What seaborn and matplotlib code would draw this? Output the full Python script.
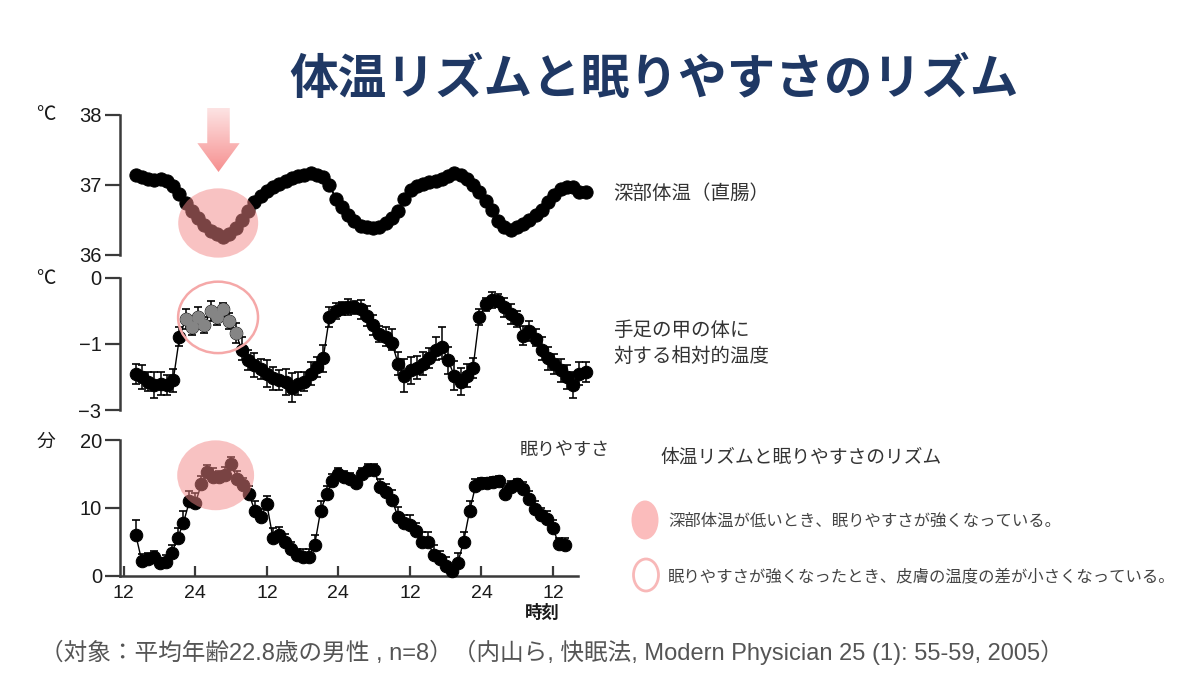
import numpy as np
import pandas as pd
import matplotlib
matplotlib.use("Agg")
import matplotlib.pyplot as plt
from matplotlib.patches import Ellipse, Polygon
import seaborn as sns

# ---------------- data ----------------
hours = list(range(14, 87))  # clock hours since start (12 = noon of day 1)

core_temp = [37.13, 37.11, 37.08, 37.07, 37.08, 37.05, 36.98, 36.86, 36.73, 36.62,
             36.52, 36.42, 36.34, 36.29, 36.25, 36.30, 36.38, 36.50, 36.62, 36.75,
             36.84, 36.91, 36.97, 37.01, 37.05, 37.09, 37.12, 37.14, 37.16, 37.14,
             37.11, 37.00, 36.80, 36.68, 36.57, 36.48, 36.41, 36.39, 36.38, 36.40,
             36.45, 36.52, 36.62, 36.80, 36.92, 36.98, 37.01, 37.03, 37.05, 37.08,
             37.12, 37.17, 37.14, 37.08, 36.99, 36.90, 36.77, 36.64, 36.48, 36.40,
             36.35, 36.40, 36.44, 36.50, 36.57, 36.63, 36.75, 36.85, 36.93, 36.96,
             36.97, 36.90, 36.89]

skin_rel = [-1.90, -2.00, -2.14, -2.24, -2.20, -2.24, -2.10, -0.90, -0.62, -0.75,
            -0.60, -0.72, -0.50, -0.60, -0.48, -0.65, -0.83, -1.20, -1.50, -1.64,
            -1.76, -1.90, -2.04, -2.10, -2.16, -2.32, -2.20, -2.14, -1.90, -1.70,
            -1.44, -0.60, -0.50, -0.46, -0.44, -0.45, -0.48, -0.58, -0.72, -0.85,
            -0.90, -0.98, -1.60, -1.96, -1.80, -1.72, -1.60, -1.44, -1.20, -1.10,
            -1.50, -1.96, -2.14, -1.96, -1.72, -0.60, -0.40, -0.34, -0.35, -0.45,
            -0.55, -0.62, -0.88, -0.80, -0.92, -1.20, -1.44, -1.60, -1.80, -2.00,
            -2.24, -1.90, -1.84]

skin_err = [0.30, 0.35, 0.30, 0.40, 0.35, 0.30, 0.35, 0.15, 0.15, 0.12,
            0.15, 0.12, 0.15, 0.12, 0.10, 0.12, 0.15, 0.30, 0.30, 0.35,
            0.30, 0.40, 0.35, 0.30, 0.40, 0.45, 0.35, 0.30, 0.35, 0.30,
            0.40, 0.15, 0.12, 0.10, 0.12, 0.10, 0.15, 0.15, 0.15, 0.12,
            0.15, 0.20, 0.35, 0.50, 0.40, 0.35, 0.35, 0.30, 0.30, 0.35,
            0.40, 0.45, 0.40, 0.35, 0.30, 0.12, 0.10, 0.12, 0.10, 0.15,
            0.15, 0.12, 0.15, 0.15, 0.15, 0.30, 0.35, 0.30, 0.35, 0.35,
            0.40, 0.35, 0.30]

sleep_min = [6.0, 2.2, 2.5, 2.8, 1.8, 2.0, 3.3, 5.5, 7.8, 11.0,
             10.7, 13.5, 15.3, 14.6, 14.5, 14.8, 16.5, 14.3, 13.4, 12.0,
             9.5, 8.7, 10.5, 5.6, 6.0, 5.0, 4.0, 3.0, 2.7, 2.8,
             4.5, 9.5, 12.0, 14.0, 15.0, 14.5, 14.2, 13.6, 15.0, 15.6,
             15.6, 13.0, 12.3, 11.2, 8.6, 7.8, 7.4, 6.6, 5.0, 5.0,
             3.0, 2.5, 1.5, 0.7, 1.8, 5.0, 9.5, 13.2, 13.6, 13.6,
             13.8, 13.9, 12.0, 13.0, 13.5, 12.8, 11.3, 9.8, 9.0, 8.4,
             7.0, 4.6, 4.5]

sleep_err = [2.2, 1.0, 0.8, 0.8, 0.8, 1.0, 1.2, 1.5, 1.8, 1.5,
             1.5, 1.2, 1.0, 1.2, 1.0, 1.2, 1.0, 1.2, 1.0, 1.2,
             1.5, 1.2, 1.3, 1.5, 1.2, 1.2, 1.0, 1.0, 1.2, 1.2,
             1.5, 1.5, 1.2, 1.0, 0.8, 1.0, 1.0, 0.8, 0.8, 0.8,
             0.8, 1.2, 1.2, 1.5, 1.5, 1.2, 1.5, 1.2, 1.5, 1.5,
             1.5, 1.2, 1.2, 0.8, 1.5, 1.5, 1.5, 1.0, 0.8, 0.8,
             0.8, 0.8, 1.0, 1.0, 0.8, 1.0, 1.2, 1.2, 1.0, 1.2,
             1.2, 1.0, 1.0]

xtick_hours = [12, 24, 36, 48, 60, 72, 84]
xtick_labels = ["12", "24", "12", "24", "12", "24", "12"]
grey_window = (21.5, 30.5)   # points shown in grey inside the open ring

title = "体温リズムと眠りやすさのリズム"
label_core = "深部体温（直腸）"
label_skin = ["手足の甲の体に", "対する相対的温度"]
label_sleep = "眠りやすさ"
legend_title = "体温リズムと眠りやすさのリズム"
legend_items = ["深部体温が低いとき、眠りやすさが強くなっている。",
                "眠りやすさが強くなったとき、皮膚の温度の差が小さくなっている。"]
caption = "（対象：平均年齢22.8歳の男性 , n=8）（内山ら, 快眠法, Modern Physician 25 (1): 55-59, 2005）"

df = pd.DataFrame({"hour": hours, "core": core_temp, "skin": skin_rel,
                   "skin_err": skin_err, "sleep": sleep_min, "sleep_err": sleep_err})

# ---------------- style ----------------
sns.set_theme(style="white")
plt.rcParams["font.family"] = ["Noto Sans CJK JP", "DejaVu Sans"]
plt.rcParams["axes.unicode_minus"] = True
NUMFONT = ["Liberation Sans", "Noto Sans CJK JP"]

W, H = 1200, 675
fig = plt.figure(figsize=(W / 100, H / 100), dpi=100, facecolor="white")


def box(x0, y0, x1, y1):
    return [x0 / W, 1 - y1 / H, (x1 - x0) / W, (y1 - y0) / H]


def fpos(x, y):
    return x / W, 1 - y / H


SPINE = "#3a3a3a"
PINK_FILL = "#f38686"


def style_axis(ax, bottom=False):
    for s in ["top", "right"]:
        ax.spines[s].set_visible(False)
    ax.spines["left"].set_color(SPINE)
    ax.spines["left"].set_linewidth(1.8)
    ax.tick_params(axis="y", direction="out", length=11, width=1.6, color=SPINE,
                   pad=2, labelsize=14.5, labelcolor="#1a1a1a", left=True)
    if bottom:
        ax.spines["bottom"].set_color(SPINE)
        ax.spines["bottom"].set_linewidth(1.8)
        ax.tick_params(axis="x", direction="in", length=7, width=1.6, color=SPINE,
                       pad=7, labelsize=14, labelcolor="#1a1a1a", bottom=True)
    else:
        ax.spines["bottom"].set_visible(False)
        ax.set_xticks([])
    for lab in ax.get_xticklabels() + ax.get_yticklabels():
        lab.set_family(NUMFONT)
    ax.set_xlabel("")
    ax.set_ylabel("")
    ax.set_facecolor("none")


# ---- panel 1: core body temperature ----
ax1 = fig.add_axes(box(119.5, 114.5, 598, 254.5))
sns.lineplot(data=df, x="hour", y="core", ax=ax1, color="black", linewidth=1.5,
             marker="o", markersize=9.5, markeredgecolor="black", zorder=3)
ax1.set_xlim(11.4, 88)
ax1.set_ylim(36, 38)
ax1.set_yticks([36, 37, 38])
style_axis(ax1)
ax1.add_patch(Ellipse((27.2, 36.45), 12.8, 0.99, facecolor=PINK_FILL, alpha=0.5,
                      edgecolor="none", zorder=5))

# ---- panel 2: relative skin temperature (hands/feet) ----
def fwd(v):
    v = np.asarray(v, dtype=float)
    return np.where(v >= -1, v, -1 + (v + 1) / 2)


def inv(u):
    u = np.asarray(u, dtype=float)
    return np.where(u >= -1, u, -1 + 2 * (u + 1))


ax2 = fig.add_axes(box(119.5, 277.7, 598, 410))
ax2.set_yscale("function", functions=(fwd, inv))
ax2.errorbar(df["hour"], df["skin"], yerr=df["skin_err"], fmt="none", ecolor="black",
             elinewidth=1.1, capsize=2.8, capthick=1.2, zorder=2)
sns.lineplot(data=df, x="hour", y="skin", ax=ax2, color="black", linewidth=1.0,
             marker="o", markersize=9, markeredgecolor="black", zorder=3)
grey = df[(df["hour"] > grey_window[0]) & (df["hour"] < grey_window[1])]
sns.scatterplot(data=grey, x="hour", y="skin", ax=ax2, color="#858585", s=85,
                edgecolor="#858585", linewidth=0, zorder=4, legend=False)
ax2.set_xlim(11.4, 88)
ax2.set_ylim(-3, 0)
ax2.set_yticks([0, -1, -3])
ax2.set_yticklabels(["0", "\u22121", "\u22123"])
ax2.yaxis.set_minor_locator(matplotlib.ticker.NullLocator())
style_axis(ax2)
ax2.add_patch(Ellipse((0.206, 0.70), 0.167, 0.54, transform=ax2.transAxes,
                      facecolor="none", edgecolor="#f5a8a8", linewidth=1.8, zorder=5))

# ---- panel 3: sleepiness ----
ax3 = fig.add_axes(box(120, 440, 578, 575.7))
ax3.errorbar(df["hour"], df["sleep"], yerr=[np.zeros(len(df)), df["sleep_err"]],
             fmt="none", ecolor="black", elinewidth=1.1, capsize=2.8, capthick=1.2, zorder=2)
sns.lineplot(data=df, x="hour", y="sleep", ax=ax3, color="black", linewidth=1.0,
             marker="o", markersize=9, markeredgecolor="black", zorder=3)
ax3.set_xlim(11.35, 88.2)
ax3.set_ylim(0, 20)
ax3.set_yticks([0, 10, 20])
ax3.set_xticks(xtick_hours)
ax3.set_xticklabels(xtick_labels)
style_axis(ax3, bottom=True)
ax3.add_patch(Ellipse((27.4, 14.8), 12.9, 10.3, facecolor=PINK_FILL, alpha=0.5,
                      edgecolor="none", zorder=5))
for ax in (ax1, ax2, ax3):
    for c in ax.get_children():
        try:
            c.set_clip_on(False)
        except Exception:
            pass

# ---- arrow with gradient ----
axa = fig.add_axes(box(196, 108, 241, 172))
axa.set_axis_off()
grad = np.linspace(0, 1, 100).reshape(-1, 1)
cmap = matplotlib.colors.LinearSegmentedColormap.from_list("pk", ["#fde3e3", "#f69090"])
img = axa.imshow(grad, aspect="auto", cmap=cmap, extent=[0, 1, 0, 1], origin="upper")
arrow = Polygon([(0.25, 1.0), (0.75, 1.0), (0.75, 0.45), (0.97, 0.45), (0.5, 0.0),
                 (0.03, 0.45), (0.25, 0.45)], closed=True, transform=axa.transAxes,
                facecolor="none", edgecolor="none")
axa.add_patch(arrow)
img.set_clip_path(arrow)
axa.set_xlim(0, 1)
axa.set_ylim(0, 1)

# ---- texts ----
TXT = "#333333"
fig.text(*fpos(654, 80), title, ha="center", va="center", fontsize=35,
         fontweight="bold", color="#1f3864")
fig.text(*fpos(46, 115), "℃", ha="center", va="center", fontsize=14, color="#1a1a1a")
fig.text(*fpos(46, 279), "℃", ha="center", va="center", fontsize=14, color="#1a1a1a")
fig.text(*fpos(46, 441), "分", ha="center", va="center", fontsize=13.5, color="#1a1a1a")
fig.text(*fpos(542, 613), "時刻", ha="center", va="center", fontsize=12.5,
         fontweight="bold", color="#1a1a1a")
fig.text(*fpos(613, 193), label_core, ha="left", va="center", fontsize=14, color=TXT)
fig.text(*fpos(613, 331), label_skin[0], ha="left", va="center", fontsize=14, color=TXT)
fig.text(*fpos(613, 356), label_skin[1], ha="left", va="center", fontsize=14, color=TXT)
fig.text(*fpos(520, 450), label_sleep, ha="left", va="center", fontsize=13, color=TXT)
fig.text(*fpos(660, 457), legend_title, ha="left", va="center", fontsize=13.5, color=TXT)
fig.text(*fpos(668, 521), legend_items[0], ha="left", va="center", fontsize=11.8, color="#444444")
fig.text(*fpos(668, 577), legend_items[1], ha="left", va="center", fontsize=11.8, color="#444444")
fig.text(*fpos(40, 652), caption, ha="left", va="center", fontsize=17, color="#555555",
         family=NUMFONT)

# legend markers
lx, ly = fpos(645, 520)
fig.add_artist(Ellipse((lx, ly), 27 / W, 39 / H, transform=fig.transFigure,
                       facecolor="#fbbcbc", edgecolor="none"))
lx, ly = fpos(646, 575)
fig.add_artist(Ellipse((lx, ly), 25 / W, 32 / H, transform=fig.transFigure,
                       facecolor="none", edgecolor="#f8b8b8", linewidth=2))

fig.savefig("out.png", dpi=100, facecolor="white")
